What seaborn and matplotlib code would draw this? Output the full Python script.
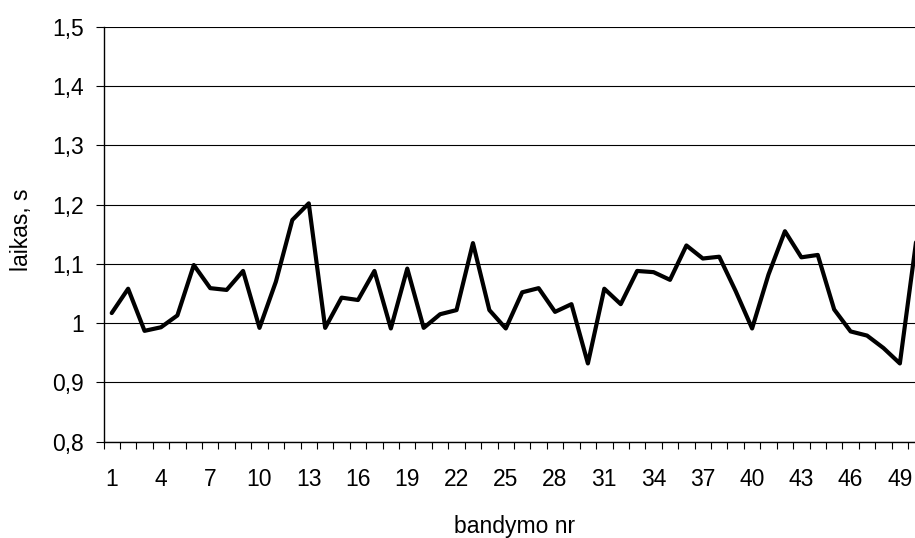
import matplotlib
matplotlib.use("Agg")
import matplotlib.pyplot as plt
from matplotlib.ticker import FixedLocator, FixedFormatter
import seaborn as sns
import pandas as pd

# ---- data ----
trial = list(range(1, 51))
laikas = [1.017, 1.058, 0.987, 0.993, 1.013, 1.098, 1.059, 1.056, 1.088, 0.992,
          1.070, 1.174, 1.202, 0.992, 1.043, 1.039, 1.088, 0.991, 1.092, 0.992,
          1.015, 1.022, 1.135, 1.022, 0.991, 1.052, 1.059, 1.019, 1.032, 0.932,
          1.058, 1.032, 1.088, 1.086, 1.073, 1.131, 1.109, 1.112, 1.054, 0.991,
          1.082, 1.155, 1.111, 1.115, 1.023, 0.986, 0.979, 0.958, 0.932, 1.140]
x_tick_values = list(range(1, 51, 3))
x_tick_labels = [str(v) for v in x_tick_values]
y_tick_values = [0.8, 0.9, 1.0, 1.1, 1.2, 1.3, 1.4, 1.5]
y_tick_labels = ["0,8", "0,9", "1", "1,1", "1,2", "1,3", "1,4", "1,5"]
x_label = "bandymo nr"
y_label = "laikas, s"

df = pd.DataFrame({"bandymo": trial, "laikas": laikas})

sns.set_theme(style="white")
plt.rcParams["font.family"] = ["Liberation Sans", "DejaVu Sans"]
FS = 16.5

W, H = 915, 538
fig = plt.figure(figsize=(W / 100, H / 100), dpi=100)
left_px, right_px = 103.5, 103.5 + 50 * 16.42
top_px, bottom_px = 26.7, 441.7
ax = fig.add_axes([left_px / W, (H - bottom_px) / H,
                   (right_px - left_px) / W, (bottom_px - top_px) / H])

sns.lineplot(data=df, x="bandymo", y="laikas", ax=ax, color="black",
             linewidth=3.0, solid_joinstyle="round", solid_capstyle="round")

ax.set_xlim(0.5, 50.5)
ax.set_ylim(0.8, 1.5)

# y axis
ax.yaxis.set_major_locator(FixedLocator(y_tick_values))
ax.yaxis.set_major_formatter(FixedFormatter(y_tick_labels))
ax.tick_params(axis="y", which="major", direction="out", length=6, width=0.8,
               color="black", pad=7.8, labelsize=FS, labelcolor="black", left=True)
ax.grid(axis="y", color="black", linewidth=0.8)
ax.grid(axis="x", visible=False)

# x axis: labels at centres, tick marks at category boundaries
ax.xaxis.set_major_locator(FixedLocator(x_tick_values))
ax.xaxis.set_major_formatter(FixedFormatter(x_tick_labels))
ax.xaxis.set_minor_locator(FixedLocator([i + 0.5 for i in range(0, 51)]))
ax.tick_params(axis="x", which="major", length=0, pad=19.0, labelsize=FS,
               labelcolor="black", bottom=True)
ax.tick_params(axis="x", which="minor", direction="out", length=5, width=0.8,
               color="black", bottom=True)

for s in ["top", "right"]:
    ax.spines[s].set_visible(False)
for s in ["left", "bottom"]:
    ax.spines[s].set_color("black")
    ax.spines[s].set_linewidth(1.0)
    ax.spines[s].set_zorder(5)

ax.set_xlabel(x_label, fontsize=FS, color="black")
ax.set_ylabel(y_label, fontsize=FS, color="black")
ax.xaxis.set_label_coords((514.5 - left_px) / (right_px - left_px),
                          (bottom_px - 515) / (bottom_px - top_px))
ax.yaxis.set_label_coords((32.8 - left_px) / (right_px - left_px),
                          (bottom_px - 229.5) / (bottom_px - top_px))

fig.savefig("out.png", dpi=100)
